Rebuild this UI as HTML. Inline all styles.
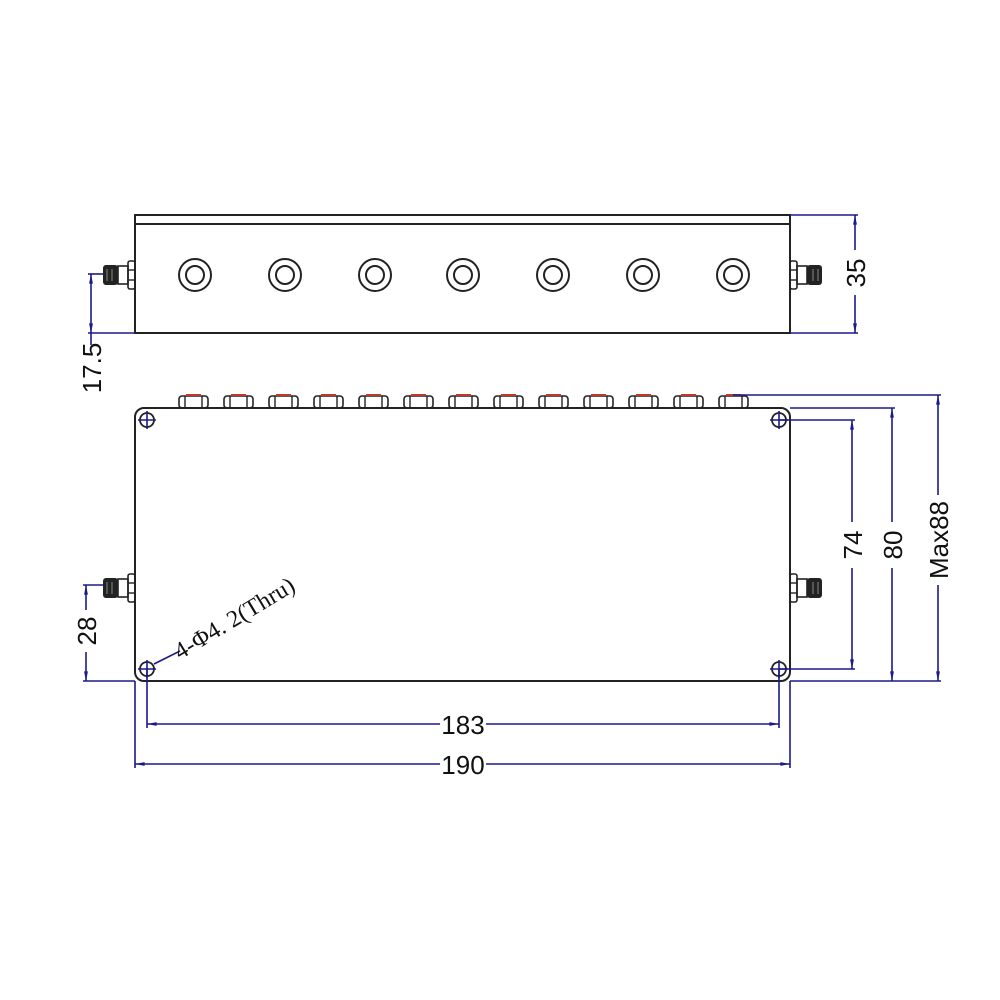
<!DOCTYPE html>
<html><head><meta charset="utf-8"><style>
html,body{margin:0;padding:0;background:#fff;}
svg{display:block;}
.k{stroke:#222;stroke-width:2;fill:none;}
.b{stroke:#1a1a8c;stroke-width:1.6;fill:none;}
.t{font-family:"Liberation Sans",sans-serif;font-size:26px;fill:#111;}
</style></head><body>
<svg width="1000" height="1000" viewBox="0 0 1000 1000" xmlns="http://www.w3.org/2000/svg">
<defs>
<marker id="a" viewBox="0 0 10 10" refX="10" refY="5" markerWidth="8" markerHeight="6" orient="auto-start-reverse"><path d="M0,3 L10,5 L0,7" fill="#1a1a8c"/></marker>
<g id="conL">
 <rect x="-7" y="-14" width="7" height="28" rx="2" class="k" style="stroke-width:1.6"/>
 <line x1="-7" y1="-5" x2="0" y2="-5" class="k" style="stroke-width:1.4"/>
 <line x1="-7" y1="5" x2="0" y2="5" class="k" style="stroke-width:1.4"/>
 <rect x="-17" y="-9" width="10" height="18" class="k" style="stroke-width:1.6"/>
 <rect x="-32" y="-10" width="15" height="20" rx="3" fill="#222"/>
 <line x1="-28" y1="-6" x2="-28" y2="6" stroke="#888" stroke-width="1"/>
 <line x1="-23" y1="-6" x2="-23" y2="6" stroke="#888" stroke-width="1"/>
</g>
<g id="nut">
 <rect x="-14" y="-12" width="29" height="12" rx="3" class="k" style="stroke-width:1.6"/>
 <line x1="-8" y1="-12" x2="-8" y2="0" class="k" style="stroke-width:1.4"/>
 <line x1="9" y1="-12" x2="9" y2="0" class="k" style="stroke-width:1.4"/>
 <line x1="-7" y1="-13" x2="8" y2="-13" stroke="#c0392b" stroke-width="2"/>
</g>
<g id="hole">
 <circle r="7" stroke="#222" stroke-width="1.8" fill="none"/>
 <line x1="-9" y1="0" x2="9" y2="0" stroke="#1a1a8c" stroke-width="1.6"/>
 <line x1="0" y1="-9" x2="0" y2="9" stroke="#1a1a8c" stroke-width="1.6"/>
</g>
<g id="tc"><circle r="16" class="k"/><circle r="9" class="k"/></g>
</defs>

<rect x="135" y="215" width="655" height="118" class="k"/>
<line x1="135" y1="224" x2="790" y2="224" class="k"/>
<use href="#tc" x="195" y="275"/><use href="#tc" x="285" y="275"/><use href="#tc" x="375" y="275"/>
<use href="#tc" x="463" y="275"/><use href="#tc" x="553" y="275"/><use href="#tc" x="643" y="275"/><use href="#tc" x="733" y="275"/>
<use href="#conL" x="135" y="275"/>
<use href="#conL" transform="translate(790,275) scale(-1,1)"/>

<line x1="88" y1="274" x2="103" y2="274" class="b"/>
<line x1="88" y1="333" x2="135" y2="333" class="b"/>
<line x1="91" y1="274" x2="91" y2="333" class="b" marker-start="url(#a)" marker-end="url(#a)"/>
<line x1="91" y1="333" x2="91" y2="345" class="b"/>
<text class="t" transform="translate(101,368) rotate(-90)" text-anchor="middle">17.5</text>
<line x1="790" y1="215" x2="858" y2="215" class="b"/>
<line x1="790" y1="333" x2="858" y2="333" class="b"/>
<line x1="855" y1="215" x2="855" y2="250" class="b" marker-start="url(#a)"/>
<line x1="855" y1="295" x2="855" y2="333" class="b" marker-end="url(#a)"/>
<text class="t" transform="translate(865,273) rotate(-90)" text-anchor="middle">35</text>

<rect x="135" y="408" width="655" height="273" rx="9" class="k"/>
<g>
<use href="#nut" x="193" y="408"/><use href="#nut" x="238" y="408"/><use href="#nut" x="283" y="408"/>
<use href="#nut" x="328" y="408"/><use href="#nut" x="373" y="408"/><use href="#nut" x="418" y="408"/>
<use href="#nut" x="463" y="408"/><use href="#nut" x="508" y="408"/><use href="#nut" x="553" y="408"/>
<use href="#nut" x="598" y="408"/><use href="#nut" x="643" y="408"/><use href="#nut" x="688" y="408"/>
<use href="#nut" x="733" y="408"/>
</g>
<use href="#hole" x="147" y="420"/><use href="#hole" x="779" y="420"/>
<use href="#hole" x="147" y="669"/><use href="#hole" x="779" y="669"/>
<use href="#conL" x="135" y="588"/>
<use href="#conL" transform="translate(790,588) scale(-1,1)"/>

<line x1="154" y1="664" x2="180" y2="651" class="b"/>
<text transform="translate(180,660) rotate(-31)" style="font-family:'Liberation Serif',serif;font-size:24px;fill:#111">4-Φ4. 2(Thru)</text>

<line x1="83" y1="585" x2="103" y2="585" class="b"/>
<line x1="83" y1="681" x2="135" y2="681" class="b"/>
<line x1="86" y1="585" x2="86" y2="610" class="b" marker-start="url(#a)"/>
<line x1="86" y1="652" x2="86" y2="681" class="b" marker-end="url(#a)"/>
<text class="t" transform="translate(96,631) rotate(-90)" text-anchor="middle">28</text>

<line x1="147" y1="669" x2="147" y2="728" class="b"/>
<line x1="779" y1="669" x2="779" y2="728" class="b"/>
<line x1="147" y1="724" x2="440" y2="724" class="b" marker-start="url(#a)"/>
<line x1="486" y1="724" x2="779" y2="724" class="b" marker-end="url(#a)"/>
<text class="t" x="463" y="734" text-anchor="middle">183</text>
<line x1="135" y1="681" x2="135" y2="768" class="b"/>
<line x1="790" y1="681" x2="790" y2="768" class="b"/>
<line x1="135" y1="764" x2="440" y2="764" class="b" marker-start="url(#a)"/>
<line x1="486" y1="764" x2="790" y2="764" class="b" marker-end="url(#a)"/>
<text class="t" x="463" y="774" text-anchor="middle">190</text>

<line x1="779" y1="420" x2="855" y2="420" class="b"/>
<line x1="779" y1="669" x2="855" y2="669" class="b"/>
<line x1="852" y1="420" x2="852" y2="522" class="b" marker-start="url(#a)"/>
<line x1="852" y1="568" x2="852" y2="669" class="b" marker-end="url(#a)"/>
<text class="t" transform="translate(862,545) rotate(-90)" text-anchor="middle">74</text>
<line x1="790" y1="408" x2="895" y2="408" class="b"/>
<line x1="790" y1="681" x2="895" y2="681" class="b"/>
<line x1="892" y1="408" x2="892" y2="522" class="b" marker-start="url(#a)"/>
<line x1="892" y1="568" x2="892" y2="681" class="b" marker-end="url(#a)"/>
<text class="t" transform="translate(902,545) rotate(-90)" text-anchor="middle">80</text>
<line x1="733" y1="395" x2="941" y2="395" class="b"/>
<line x1="895" y1="681" x2="941" y2="681" class="b"/>
<line x1="938" y1="395" x2="938" y2="495" class="b" marker-start="url(#a)"/>
<line x1="938" y1="585" x2="938" y2="681" class="b" marker-end="url(#a)"/>
<text class="t" transform="translate(948,540) rotate(-90)" text-anchor="middle">Max88</text>
</svg>
</body></html>
